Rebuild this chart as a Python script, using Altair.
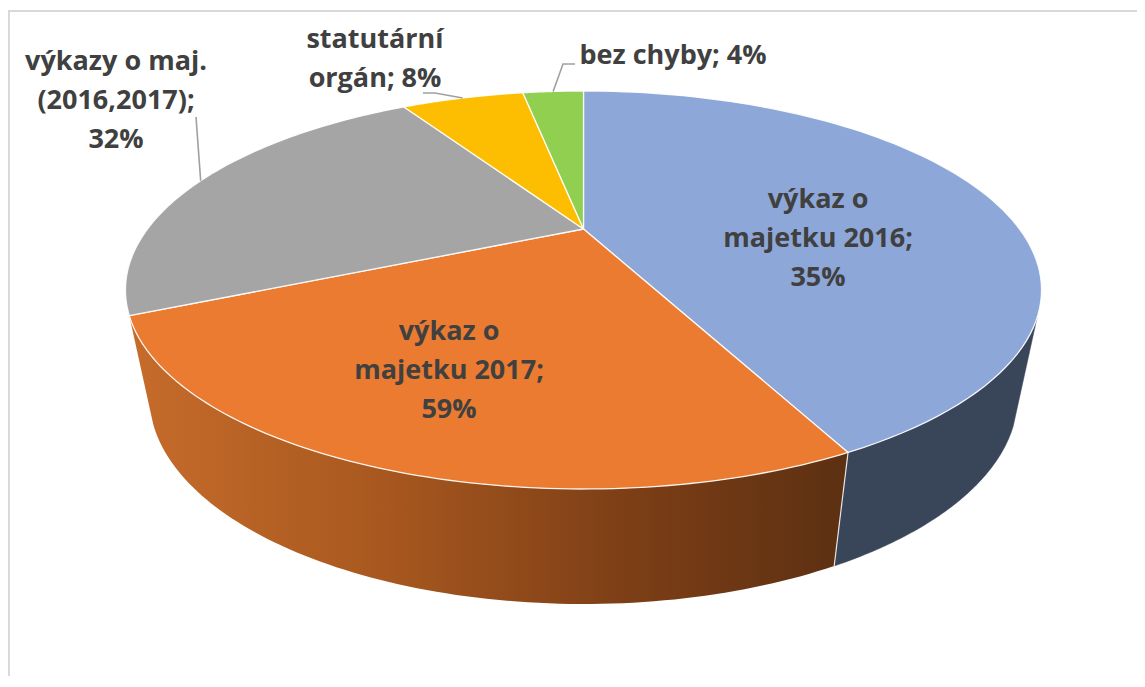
import math
import altair as alt
import pandas as pd

# Slice sizes (the drawn wedge proportions) in clockwise order from 12 o'clock
slice_names = ["blue", "orange", "grey", "yellow", "green"]
slice_values = [59, 35, 32, 8, 4]
top_colors = ["#8DA7D8", "#EA7B30", "#A5A5A5", "#FDBD00", "#91CF50"]

label_lines = ["výkaz o", "majetku 2016;", "35%",
               "výkaz o", "majetku 2017;", "59%",
               "výkazy o maj.", "(2016,2017);", "32%",
               "statutární", "orgán; 8%",
               "bez chyby; 4%"]
label_x = [818, 818, 818, 449, 449, 449, 116, 116, 116, 375, 375, 673]
label_y = [200, 239, 278, 332, 371, 410, 62, 101, 140, 40, 79, 56]

# Perspective disc
CX, CY = 583.5, 229.0
K = 0.3065
B = 180.3
A = 436.0
ELL_CY, TOP_RY, TOP_RX = 290.0, 199.0, 458.0
BOT_CY, BOT_RY, BOT_RX = 397.0, 207.0, 434.0


def top_pt(deg):
    t = math.radians(deg)
    w = 1 + K * math.cos(t)
    return CX + A * math.sin(t) / w, CY - B * math.cos(t) / w


def bot_pt(deg):
    x, y = top_pt(deg)
    return CX + BOT_RX / TOP_RX * (x - CX), BOT_CY + BOT_RY / TOP_RY * (y - ELL_CY)


def arc(a0, a1, fn, n=90):
    return [fn(a0 + (a1 - a0) * i / n) for i in range(n + 1)]


total = sum(slice_values)
edges = [0.0]
for v in slice_values:
    edges.append(edges[-1] + v / total * 360)


def wall_start():
    d = 60.0
    while top_pt(d)[1] < 318:
        d += 0.1
    return d


def poly(points):
    return pd.DataFrame({"x": [p[0] for p in points],
                         "y": [p[1] for p in points],
                         "o": list(range(len(points)))})


X = alt.X("x:Q", scale=alt.Scale(domain=[8, 1137], zero=False, nice=False), axis=None)
Y = alt.Y("y:Q", scale=alt.Scale(domain=[676, 8], zero=False, nice=False), axis=None)
ORD = alt.Order("o:Q")

layers = []

# Frame
frame_pts = [(1145, 11), (9, 11), (9, 687)]
layers.append(alt.Chart(poly(frame_pts)).mark_line(color="#D9D9D9", strokeWidth=2, clip=False)
              .encode(x=X, y=Y, order=ORD))

# Walls
blue_pts = arc(wall_start(), edges[1], top_pt) + arc(edges[1], wall_start(), bot_pt)
layers.append(alt.Chart(poly(blue_pts + blue_pts[:1]))
              .mark_line(fill="#394558", stroke="#394558", strokeWidth=0.5)
              .encode(x=X, y=Y, order=ORD))

orange_wall = alt.Gradient(
    gradient="linear", x1=0, x2=1, y1=0, y2=0,
    stops=[alt.GradientStop(color="#C66C2B", offset=0),
           alt.GradientStop(color="#A8581F", offset=0.35),
           alt.GradientStop(color="#7C3E16", offset=0.7),
           alt.GradientStop(color="#5C3012", offset=1)])
orange_pts = arc(edges[1], edges[2], top_pt) + arc(edges[2], edges[1], bot_pt)
layers.append(alt.Chart(poly(orange_pts + orange_pts[:1]))
              .mark_line(fill=orange_wall, strokeWidth=0, strokeOpacity=0)
              .encode(x=X, y=Y, order=ORD))

# Wall seam
seam = [top_pt(edges[1]), bot_pt(edges[1])]
layers.append(alt.Chart(poly(seam)).mark_line(color="#FFFFFF", strokeWidth=1.2, opacity=0.85)
              .encode(x=X, y=Y, order=ORD))

# Top faces
for i, name in enumerate(slice_names):
    pts = [(CX, CY)] + arc(edges[i], edges[i + 1], top_pt) + [(CX, CY)]
    layers.append(alt.Chart(poly(pts))
                  .mark_line(fill=top_colors[i], stroke="#FFFFFF", strokeWidth=1.3,
                             strokeJoin="round", strokeOpacity=0.9)
                  .encode(x=X, y=Y, order=ORD))

# Leader lines: label end, elbow, slice mid-point on the rim
leaders = [
    [(196, 117), top_pt((edges[2] + edges[3]) / 2)],
    [(423, 93), (435, 93), top_pt((edges[3] + edges[4]) / 2)],
    [(575, 64), (563, 64), top_pt((edges[4] + edges[5]) / 2)],
]
for pts in leaders:
    layers.append(alt.Chart(poly(pts)).mark_line(color="#A0A0A0", strokeWidth=1.6)
                  .encode(x=X, y=Y, order=ORD))

# Labels
labels = pd.DataFrame({"t": label_lines, "x": label_x, "y": label_y})
layers.append(alt.Chart(labels)
              .mark_text(font="Open Sans", fontWeight="bold", fontSize=27,
                         color="#404040", align="center", baseline="middle")
              .encode(x=X, y=Y, text="t:N"))

chart = alt.layer(*layers).properties(
    width=1129, height=668, padding=0,
    autosize=alt.AutoSizeParams(type="none"),
    background="#FFFFFF",
).configure_view(stroke=None)

chart.save("out.html", embed_options={"renderer": "svg", "actions": False})
